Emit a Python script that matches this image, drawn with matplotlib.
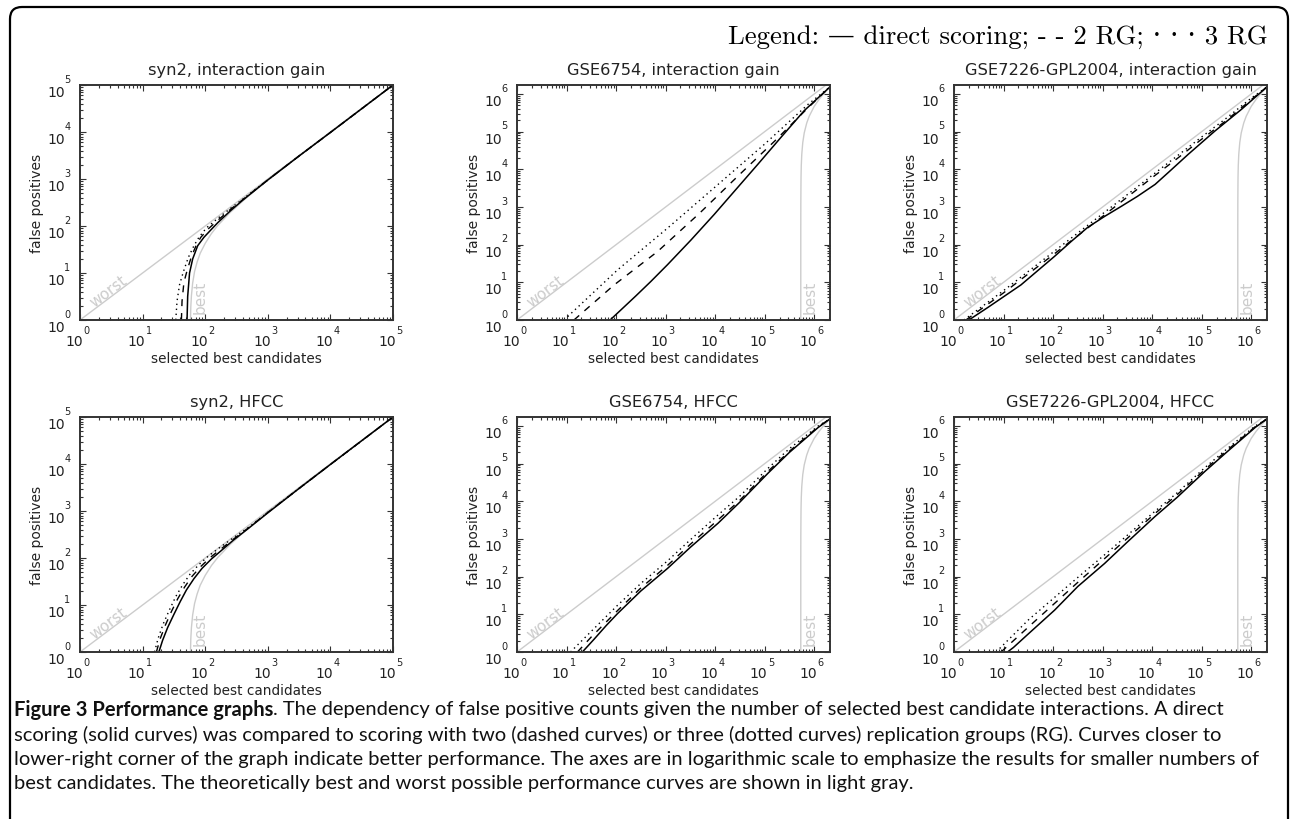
import matplotlib
matplotlib.use('Agg')
import matplotlib.pyplot as plt
import numpy as np
from matplotlib.patches import FancyBboxPatch
from matplotlib.ticker import LogLocator, NullFormatter

# all curve values are log10 exponents
# syn2, interaction gain
syn2_ig_solid_x = [1.71, 1.72, 1.75, 1.80, 1.88, 1.98, 2.10, 2.20, 2.40, 2.60, 3.00, 3.50, 4.00, 5.00]
syn2_ig_solid_y = [0.00, 0.50, 1.00, 1.30, 1.58, 1.76, 1.93, 2.07, 2.32, 2.55, 2.98, 3.49, 3.99, 5.00]
syn2_ig_dash_x = [1.62, 1.63, 1.66, 1.71, 1.78, 1.86, 1.93, 2.05, 2.20, 2.40, 2.60, 3.00, 3.50, 4.00, 5.00]
syn2_ig_dash_y = [0.00, 0.40, 0.80, 1.05, 1.35, 1.60, 1.76, 1.94, 2.12, 2.35, 2.56, 2.98, 3.49, 3.99, 5.00]
syn2_ig_dot_x = [1.53, 1.55, 1.59, 1.65, 1.73, 1.82, 1.90, 2.02, 2.20, 2.40, 2.60, 3.00, 3.50, 4.00, 5.00]
syn2_ig_dot_y = [0.00, 0.40, 0.75, 1.02, 1.33, 1.58, 1.76, 1.96, 2.16, 2.37, 2.57, 2.98, 3.49, 3.99, 5.00]

# syn2, HFCC
syn2_hf_solid_x = [1.26, 1.32, 1.40, 1.50, 1.60, 1.70, 1.82, 1.95, 2.10, 2.25, 2.45, 2.70, 3.00, 3.50, 4.00, 5.00]
syn2_hf_solid_y = [0.00, 0.25, 0.52, 0.80, 1.07, 1.32, 1.56, 1.78, 1.98, 2.15, 2.38, 2.64, 2.96, 3.48, 3.99, 5.00]
syn2_hf_dash_x = [1.22, 1.28, 1.36, 1.46, 1.56, 1.67, 1.79, 1.93, 2.08, 2.24, 2.45, 2.70, 3.00, 3.50, 4.00, 5.00]
syn2_hf_dash_y = [0.00, 0.28, 0.56, 0.86, 1.13, 1.38, 1.61, 1.82, 2.01, 2.18, 2.40, 2.65, 2.97, 3.48, 3.99, 5.00]
syn2_hf_dot_x = [1.19, 1.25, 1.33, 1.43, 1.53, 1.64, 1.76, 1.90, 2.05, 2.22, 2.44, 2.70, 3.00, 3.50, 4.00, 5.00]
syn2_hf_dot_y = [0.00, 0.30, 0.60, 0.90, 1.18, 1.43, 1.66, 1.86, 2.04, 2.21, 2.42, 2.66, 2.97, 3.48, 3.99, 5.00]

# GSE6754, interaction gain
g54_ig_solid_x = [1.88, 2.10, 2.40, 2.70, 3.04, 3.51, 3.98, 4.39, 4.86, 5.33, 5.80, 6.32]
g54_ig_solid_y = [0.00, 0.27, 0.64, 1.02, 1.47, 2.12, 2.80, 3.42, 4.13, 4.85, 5.56, 6.19]
g54_ig_dash_x = [1.15, 1.96, 2.84, 3.69, 4.46, 5.21, 5.88, 6.32]
g54_ig_dash_y = [0.00, 0.93, 1.82, 2.84, 3.82, 4.76, 5.64, 6.19]
g54_ig_dot_x = [0.95, 2.03, 3.04, 4.06, 5.00, 5.88, 6.32]
g54_ig_dot_y = [0.00, 1.33, 2.44, 3.60, 4.67, 5.73, 6.19]

# GSE6754, HFCC
g54_hf_solid_x = [1.32, 1.55, 1.80, 2.03, 2.50, 3.04, 3.50, 4.06, 4.50, 5.07, 5.50, 6.08, 6.32]
g54_hf_solid_y = [0.00, 0.33, 0.70, 1.02, 1.62, 2.22, 2.78, 3.42, 3.98, 4.75, 5.30, 5.96, 6.19]
g54_hf_dash_x = [1.22, 1.50, 2.03, 2.50, 3.04, 3.50, 4.06, 4.50, 5.07, 5.50, 6.08, 6.32]
g54_hf_dash_y = [0.00, 0.40, 1.10, 1.70, 2.30, 2.86, 3.51, 4.03, 4.80, 5.33, 5.98, 6.19]
g54_hf_dot_x = [1.08, 1.50, 2.03, 2.50, 3.04, 3.50, 4.06, 4.50, 5.07, 5.50, 6.08, 6.32]
g54_hf_dot_y = [0.00, 0.55, 1.24, 1.82, 2.42, 2.98, 3.64, 4.14, 4.88, 5.40, 6.00, 6.19]

# GSE7226-GPL2004, interaction gain
g26_ig_solid_x = [0.30, 0.68, 1.35, 2.03, 2.37, 2.70, 3.04, 3.38, 3.70, 4.06, 4.33, 4.73, 5.27, 5.81, 6.32]
g26_ig_solid_y = [0.00, 0.33, 0.93, 1.69, 2.09, 2.46, 2.75, 3.02, 3.28, 3.60, 3.92, 4.40, 5.02, 5.60, 6.19]
g26_ig_dash_x = [0.24, 1.00, 2.00, 3.00, 4.00, 4.50, 5.00, 5.50, 6.00, 6.32]
g26_ig_dash_y = [0.00, 0.72, 1.73, 2.75, 3.78, 4.28, 4.80, 5.30, 5.85, 6.19]
g26_ig_dot_x = [0.20, 1.00, 2.00, 3.00, 4.00, 4.50, 5.00, 5.50, 6.00, 6.32]
g26_ig_dot_y = [0.00, 0.78, 1.80, 2.82, 3.84, 4.35, 4.86, 5.36, 5.89, 6.19]

# GSE7226-GPL2004, HFCC
g26_hf_solid_x = [1.08, 1.20, 1.50, 2.03, 2.50, 3.04, 3.50, 4.06, 4.50, 5.07, 5.50, 6.08, 6.32]
g26_hf_solid_y = [0.00, 0.12, 0.48, 1.11, 1.74, 2.35, 2.92, 3.60, 4.10, 4.80, 5.30, 5.96, 6.19]
g26_hf_dash_x = [0.95, 1.50, 2.03, 2.50, 3.04, 3.50, 4.06, 4.50, 5.07, 5.50, 6.08, 6.32]
g26_hf_dash_y = [0.00, 0.66, 1.29, 1.85, 2.48, 3.02, 3.68, 4.17, 4.85, 5.34, 5.98, 6.19]
g26_hf_dot_x = [0.85, 1.50, 2.03, 2.50, 3.04, 3.50, 4.06, 4.50, 5.07, 5.50, 6.08, 6.32]
g26_hf_dot_y = [0.00, 0.85, 1.45, 1.98, 2.58, 3.10, 3.74, 4.22, 4.90, 5.38, 6.00, 6.19]

# theoretical best / worst curves (light gray)
syn2_best_x = [1.765, 1.77, 1.78, 1.80, 1.83, 1.87, 1.92, 2.00, 2.10, 2.20, 2.40, 2.60, 2.80, 3.00, 3.50, 4.00, 5.00]
syn2_best_y = [0.00, 0.28, 0.52, 0.79, 1.03, 1.23, 1.42, 1.63, 1.84, 2.01, 2.29, 2.53, 2.76, 2.97, 3.49, 4.00, 5.00]
syn2_worst = [0.0, 5.0]
gse_best_x = [5.730, 5.7302, 5.731, 5.733, 5.735, 5.74, 5.75, 5.77, 5.80, 5.85, 5.90, 6.00, 6.10, 6.20, 6.32]
gse_best_y = [0.00, 2.40, 3.09, 3.50, 3.80, 4.10, 4.40, 4.71, 4.97, 5.23, 5.41, 5.67, 5.86, 6.02, 6.19]
gse_worst = [0.0, 6.32]

titles = ['syn2, interaction gain', 'GSE6754, interaction gain', 'GSE7226-GPL2004, interaction gain',
          'syn2, HFCC', 'GSE6754, HFCC', 'GSE7226-GPL2004, HFCC']

GRAY = '#cccccc'
DARK = '#333333'
TXT = '#222222'

fig = plt.figure(figsize=(12.9, 8.2), dpi=100)

# rounded frame around the whole figure
frame = FancyBboxPatch((0.10, -0.4), 12.78, 8.52, boxstyle='round,pad=0,rounding_size=0.12',
                       transform=fig.dpi_scale_trans, fill=False, ec='black', lw=1.6)
fig.patches.append(frame)

lefts = [80, 517, 954]
tops = [86, 418]
W, H = 313, 235


def log_labels(ax, nx, ny):
    # old style "10" with a detached small exponent
    for e in range(nx + 1):
        ax.annotate('10', xy=(10 ** e, 0), xycoords=('data', 'axes fraction'), xytext=(-4.3, -15),
                    textcoords='offset points', ha='center', va='center', fontsize=10, color=TXT)
        ax.annotate(str(e), xy=(10 ** e, 0), xycoords=('data', 'axes fraction'), xytext=(4.5, -7.3),
                    textcoords='offset points', ha='center', va='center', fontsize=7, color=TXT)
    for e in range(ny + 1):
        ax.annotate('10', xy=(0, 10 ** e), xycoords=('axes fraction', 'data'), xytext=(-17.3, -5),
                    textcoords='offset points', ha='center', va='center', fontsize=10, color=TXT)
        ax.annotate(str(e), xy=(0, 10 ** e), xycoords=('axes fraction', 'data'), xytext=(-9.2, 4.5),
                    textcoords='offset points', ha='center', va='center', fontsize=7, color=TXT)


def panel(ax, title, curves, best_x, best_y, worst, xmax, ymax, nticks, best_frac):
    ax.set_xscale('log')
    ax.set_yscale('log')
    w = 10 ** np.array(worst)
    ax.plot(w, w, color=GRAY, lw=1)
    ax.plot(10 ** np.array(best_x), 10 ** np.array(best_y), color=GRAY, lw=1)
    (sx, sy), (dx, dy), (ox, oy) = curves
    ax.plot(10 ** np.array(ox), 10 ** np.array(oy), color='black', lw=1, dashes=(1, 2.6))
    ax.plot(10 ** np.array(dx), 10 ** np.array(dy), color='black', lw=1, dashes=(5, 5))
    ax.plot(10 ** np.array(sx), 10 ** np.array(sy), color='black', lw=1.1)
    ax.set_xlim(1, 10 ** xmax)
    ax.set_ylim(1, 10 ** ymax)
    ax.xaxis.set_major_locator(LogLocator(base=10, numticks=20))
    ax.yaxis.set_major_locator(LogLocator(base=10, numticks=20))
    ax.xaxis.set_minor_locator(LogLocator(base=10, subs=np.arange(2, 10), numticks=20))
    ax.yaxis.set_minor_locator(LogLocator(base=10, subs=np.arange(2, 10), numticks=20))
    ax.xaxis.set_minor_formatter(NullFormatter())
    ax.yaxis.set_minor_formatter(NullFormatter())
    ax.tick_params(which='both', direction='in', top=True, right=True,
                   labelbottom=False, labelleft=False, color=DARK, width=0.8)
    ax.tick_params(which='major', length=4)
    ax.tick_params(which='minor', length=2)
    for s in ax.spines.values():
        s.set_color(DARK)
        s.set_linewidth(1.4)
    log_labels(ax, nticks, nticks)
    ax.set_title(title, fontsize=11.7, color=TXT, pad=8)
    ax.set_xlabel('selected best candidates', fontsize=9.8, color=TXT, labelpad=22)
    ax.set_ylabel('false positives', fontsize=10, color=TXT, labelpad=26)
    ax.text(0.09, 0.125, 'worst', transform=ax.transAxes, rotation=37, color=GRAY,
            fontsize=11, ha='center', va='center', rotation_mode='anchor')
    ax.text(best_frac, 0.10, 'best', transform=ax.transAxes, rotation=90, color=GRAY,
            fontsize=11, ha='center', va='center')


all_curves = [
    [(syn2_ig_solid_x, syn2_ig_solid_y), (syn2_ig_dash_x, syn2_ig_dash_y), (syn2_ig_dot_x, syn2_ig_dot_y)],
    [(g54_ig_solid_x, g54_ig_solid_y), (g54_ig_dash_x, g54_ig_dash_y), (g54_ig_dot_x, g54_ig_dot_y)],
    [(g26_ig_solid_x, g26_ig_solid_y), (g26_ig_dash_x, g26_ig_dash_y), (g26_ig_dot_x, g26_ig_dot_y)],
    [(syn2_hf_solid_x, syn2_hf_solid_y), (syn2_hf_dash_x, syn2_hf_dash_y), (syn2_hf_dot_x, syn2_hf_dot_y)],
    [(g54_hf_solid_x, g54_hf_solid_y), (g54_hf_dash_x, g54_hf_dash_y), (g54_hf_dot_x, g54_hf_dot_y)],
    [(g26_hf_solid_x, g26_hf_solid_y), (g26_hf_dash_x, g26_hf_dash_y), (g26_hf_dot_x, g26_hf_dot_y)],
]

for i in range(6):
    r, c = divmod(i, 3)
    ax = fig.add_axes([lefts[c] / 1290, 1 - (tops[r] + H) / 820, W / 1290, H / 820])
    if c == 0:
        panel(ax, titles[i], all_curves[i], syn2_best_x, syn2_best_y, syn2_worst, 5, 5, 5, 0.383)
    else:
        panel(ax, titles[i], all_curves[i], gse_best_x, gse_best_y, gse_worst, 6.32, 6.24, 6, 0.938)

# legend line in a TeX-like serif
fig.text(0.983, 0.955, 'Legend: \u2014 direct scoring; - - 2 RG; \u00b7 \u00b7 \u00b7 3 RG',
         ha='right', va='center', fontsize=19.3, family=['cmr10', 'DejaVu Serif'])

# caption
cap_font = ['Lato', 'DejaVu Sans']
cs = 14.5
t1 = fig.text(14 / 1290, 1 - 710 / 820, 'Figure 3 Performance graphs', fontsize=cs, fontweight='bold',
              family=cap_font, va='center', ha='left', color='#111111')
plt.annotate('. The dependency of false positive counts given the number of selected best candidate '
             'interactions. A direct', xy=(1, 0.5), xycoords=t1, va='center', ha='left',
             fontsize=cs, family=cap_font, color='#111111', annotation_clip=False)
lines = ['scoring (solid curves) was compared to scoring with two (dashed curves) or three (dotted curves) '
         'replication groups (RG). Curves closer to',
         'lower-right corner of the graph indicate better performance. The axes are in logarithmic scale to '
         'emphasize the results for smaller numbers of',
         'best candidates. The theoretically best and worst possible performance curves are shown in light gray.']
for k, ln in enumerate(lines):
    fig.text(14 / 1290, 1 - (735 + 24.5 * k) / 820, ln, fontsize=cs, family=cap_font,
             va='center', ha='left', color='#111111')

fig.savefig('out.png', dpi=100)
